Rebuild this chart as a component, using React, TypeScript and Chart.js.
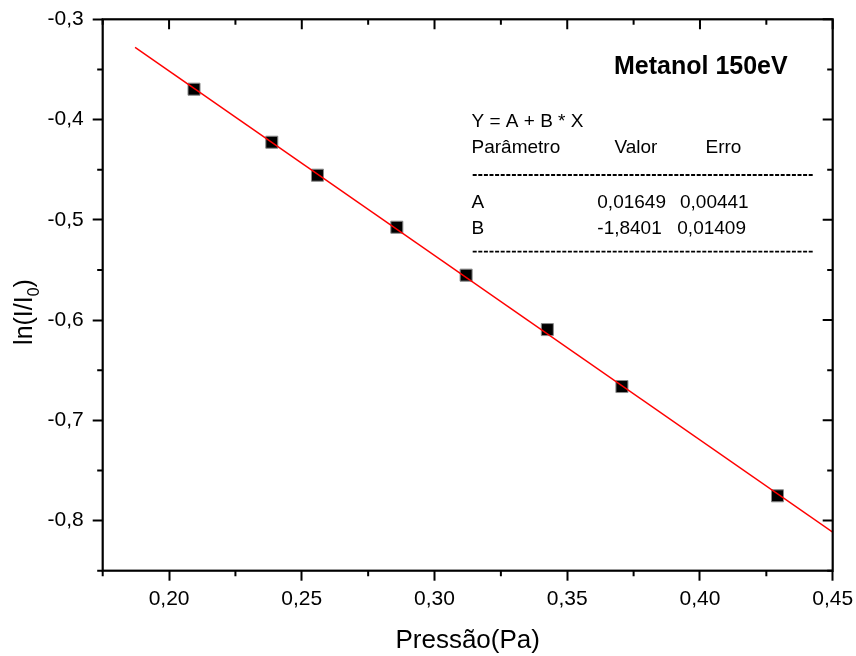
import React, { useEffect, useRef } from 'react';
import { Chart, registerables } from 'chart.js';

Chart.register(...registerables);

// ---- data ----
const pressao = [0.2094, 0.2387, 0.2559, 0.2858, 0.3119, 0.3425, 0.3706, 0.4292];
const lnRatio = [-0.3697, -0.4226, -0.4555, -0.5074, -0.5552, -0.6095, -0.6663, -0.7753];
const fitX = [0.1872, 0.45];
const fitY = [-0.3279, -0.8115];
const xTicks = [0.2, 0.25, 0.3, 0.35, 0.4, 0.45];
const xMinorTicks = [0.175, 0.225, 0.275, 0.325, 0.375, 0.425];
const yTicks = [-0.8, -0.7, -0.6, -0.5, -0.4, -0.3];
const yMinorTicks = [-0.85, -0.75, -0.65, -0.55, -0.45, -0.35];
const xRange = [0.175, 0.45];
const yRange = [-0.85, -0.3];
const plotTitle = 'Metanol 150eV';
const eqText = 'Y = A + B * X';
const tableHeader = ['Parâmetro', 'Valor', 'Erro'];
const paramNames = ['A', 'B'];
const paramValues = ['0,01649', '-1,8401'];
const paramErrors = ['0,00441', '0,01409'];
const xTitle = 'Pressão(Pa)';
const yTitleMain = 'ln(I/I';
const yTitleSub = '0';
const yTitleEnd = ')';

const FONT = '"Liberation Sans", Arial, Helvetica, sans-serif';

const framePlugin = {
  id: 'framePlugin',
  afterDraw(chart: any) {
    const ctx = chart.ctx as CanvasRenderingContext2D;
    const { left, right, top, bottom } = chart.chartArea;
    const xs = chart.scales.x;
    const ys = chart.scales.y;
    ctx.save();
    ctx.strokeStyle = '#000';
    // frame
    ctx.lineWidth = 2.2;
    ctx.strokeRect(left, top, right - left, bottom - top);
    // ticks
    ctx.lineWidth = 2;
    ctx.beginPath();
    const MAJ = 10;
    const MIN = 5.5;
    for (const v of xMinorTicks) {
      const px = xs.getPixelForValue(v);
      ctx.moveTo(px, bottom); ctx.lineTo(px, bottom + MIN);
      ctx.moveTo(px, top); ctx.lineTo(px, top + MIN);
    }
    for (const v of yMinorTicks) {
      const py = ys.getPixelForValue(v);
      ctx.moveTo(left, py); ctx.lineTo(left - MIN, py);
      ctx.moveTo(right, py); ctx.lineTo(right - MIN, py);
    }
    for (const v of xTicks) {
      const px = xs.getPixelForValue(v);
      ctx.moveTo(px, top); ctx.lineTo(px, top + MAJ);
    }
    for (const v of yTicks) {
      const py = ys.getPixelForValue(v);
      ctx.moveTo(right, py); ctx.lineTo(right - MAJ, py);
    }
    ctx.stroke();

    // axis titles
    ctx.fillStyle = '#000';
    ctx.font = `26px ${FONT}`;
    ctx.textAlign = 'center';
    ctx.textBaseline = 'alphabetic';
    ctx.fillText(xTitle, (left + right) / 2, 648);

    // y title with subscript
    ctx.save();
    ctx.translate(31.5, 312);
    ctx.rotate(-Math.PI / 2);
    ctx.textAlign = 'left';
    const mainFont = `25px ${FONT}`;
    const subFont = `16px ${FONT}`;
    ctx.font = mainFont;
    const w1 = ctx.measureText(yTitleMain).width;
    const w3 = ctx.measureText(yTitleEnd).width;
    ctx.font = subFont;
    const w2 = ctx.measureText(yTitleSub).width;
    const total = w1 + w2 + w3;
    let x0 = -total / 2;
    ctx.font = mainFont;
    ctx.fillText(yTitleMain, x0, 0);
    x0 += w1;
    ctx.font = subFont;
    ctx.fillText(yTitleSub, x0, 7);
    x0 += w2;
    ctx.font = mainFont;
    ctx.fillText(yTitleEnd, x0, 0);
    ctx.restore();

    // annotation
    ctx.textAlign = 'left';
    ctx.font = `bold 25px ${FONT}`;
    ctx.fillText(plotTitle, 614, 74);

    ctx.font = `19px ${FONT}`;
    ctx.fillText(eqText, 471.5, 127.3);
    ctx.fillText(tableHeader[0], 471.5, 153.3);
    ctx.fillText(tableHeader[1], 614.5, 153.3);
    ctx.fillText(tableHeader[2], 705.5, 153.3);
    const rowY = [208.3, 234.3];
    const errX = [680, 677.3];
    paramNames.forEach((n, i) => {
      ctx.fillText(n, 471.5, rowY[i]);
      ctx.fillText(paramValues[i], 597.3, rowY[i]);
      ctx.fillText(paramErrors[i], errX[i], rowY[i]);
    });

    // dashed separators
    ctx.lineWidth = 1.8;
    ctx.setLineDash([4, 1.6]);
    ctx.beginPath();
    for (const y of [175, 251.7]) {
      ctx.moveTo(472.7, y);
      ctx.lineTo(812.7, y);
    }
    ctx.stroke();
    ctx.setLineDash([]);
    ctx.restore();
  },
};

export default function App() {
  const ref = useRef<HTMLCanvasElement | null>(null);
  useEffect(() => {
    if (!ref.current) return;
    const chart = new Chart(ref.current, {
      type: 'scatter',
      data: {
        datasets: [
          {
            type: 'line',
            data: fitX.map((x, i) => ({ x, y: fitY[i] })),
            borderColor: '#ff0000',
            borderWidth: 1.5,
            pointRadius: 0,
            fill: false,
            showLine: true,
          } as any,
          {
            data: pressao.map((x, i) => ({ x, y: lnRatio[i] })),
            pointStyle: 'rect',
            pointRadius: 8.5,
            backgroundColor: '#000',
            borderColor: '#8a8a8a',
            borderWidth: 1,
          },
        ],
      },
      options: {
        responsive: false,
        animation: false,
        devicePixelRatio: 1,
        layout: { padding: { top: 19.3, right: 23.3, left: 0, bottom: 0 } },
        plugins: { legend: { display: false }, tooltip: { enabled: false } },
        scales: {
          x: {
            type: 'linear',
            min: xRange[0],
            max: xRange[1],
            afterBuildTicks: (s: any) => {
              s.ticks = xTicks.map((v) => ({ value: v }));
            },
            afterFit: (s: any) => {
              s.height = 85.3;
              s.paddingLeft = 0;
              s.paddingRight = 0;
            },
            border: { display: false },
            grid: {
              drawOnChartArea: false,
              drawTicks: true,
              tickLength: 10,
              tickColor: '#000',
              tickWidth: 2,
            },
            ticks: {
              color: '#000',
              font: { family: FONT, size: 21 },
              padding: 6,
              maxRotation: 0,
              callback: (v: any) => Number(v).toFixed(2).replace('.', ','),
            },
          },
          y: {
            type: 'linear',
            min: yRange[0],
            max: yRange[1],
            afterBuildTicks: (s: any) => {
              s.ticks = yTicks.map((v) => ({ value: v }));
            },
            afterFit: (s: any) => {
              s.width = 102.7;
              s.paddingTop = 0;
              s.paddingBottom = 0;
            },
            border: { display: false },
            grid: {
              drawOnChartArea: false,
              drawTicks: true,
              tickLength: 10,
              tickColor: '#000',
              tickWidth: 2,
            },
            ticks: {
              color: '#000',
              font: { family: FONT, size: 21 },
              padding: 9,
              callback: (v: any) => Number(v).toFixed(1).replace('.', ','),
            },
          },
        },
      },
      plugins: [framePlugin],
    });
    return () => chart.destroy();
  }, []);
  return (
    <div style={{ position: 'fixed', left: 0, top: 0, width: 856, height: 656, background: '#fff' }}>
      <canvas ref={ref} width={856} height={656} />
    </div>
  );
}
